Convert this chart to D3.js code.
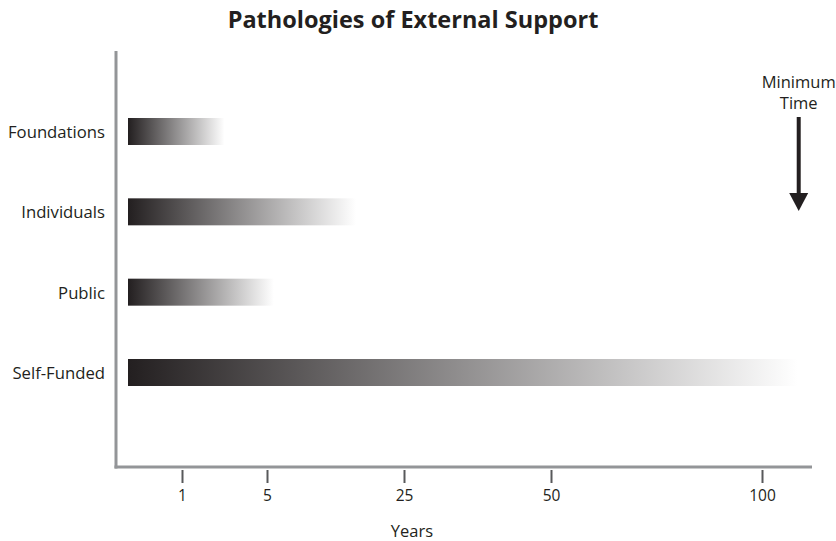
<!DOCTYPE html>
<html>
<head>
<meta charset="utf-8">
<script src="https://cdn.jsdelivr.net/npm/d3@7"></script>
<style>
  html, body { margin: 0; padding: 0; background: #fff; }
  svg { display: block; }
  text { font-family: "Open Sans", "Noto Sans", sans-serif; fill: #231f20; }
</style>
</head>
<body>
<svg id="chart" width="836" height="541"></svg>
<script>
// ---- data ----
const categories = ["Foundations", "Individuals", "Public", "Self-Funded"];
const yearsValues = [3, 18, 6, 110];
const tickValues = [1, 5, 25, 50, 100];
const tickLabels = ["1", "5", "25", "50", "100"];
const scaleBreaks = [0, 1, 5, 25, 50, 100, 114];
const titleText = "Pathologies of External Support";
const xTitle = "Years";
const noteLines = ["Minimum", "Time"];
const noteYear = 110;

// ---- layout ----
const W = 836, H = 541;
const svg = d3.select("#chart");
const axisY = 467, axisLeftX = 116, axisTop = 51;

const x = d3.scaleLinear()
  .domain(scaleBreaks)
  .range([128, 182, 267, 404, 551, 762, 812]);

const y = d3.scalePoint()
  .domain(categories)
  .range([131.5, 372.5]);

const barH = 27;

// gradient
const defs = svg.append("defs");
const grad = defs.append("linearGradient")
  .attr("id", "fade").attr("x1", "0%").attr("x2", "100%").attr("y1", "0%").attr("y2", "0%");
grad.append("stop").attr("offset", "0%").attr("stop-color", "#231f20");
grad.append("stop").attr("offset", "100%").attr("stop-color", "#ffffff");

// title
svg.append("text")
  .attr("x", 413).attr("y", 28)
  .attr("text-anchor", "middle")
  .style("font-size", "23.5px").style("font-weight", "700")
  .text(titleText);

// bars
svg.append("g").selectAll("rect")
  .data(categories.map((c, i) => ({ c, v: yearsValues[i] })))
  .join("rect")
  .attr("x", x(0))
  .attr("y", d => y(d.c) - barH / 2)
  .attr("width", d => x(d.v) - x(0))
  .attr("height", barH)
  .attr("fill", "url(#fade)");

// category labels
const yAxis = svg.append("g")
  .attr("transform", `translate(${axisLeftX - 11},0)`)
  .call(d3.axisLeft(y).tickSize(0).tickPadding(0));
yAxis.select(".domain").remove();
yAxis.selectAll("text")
  .attr("dy", "0.36em")
  .style("font-size", "16.7px")
  .style("font-family", "'Open Sans', 'Noto Sans', sans-serif")
  .attr("fill", "#231f20");

// axes lines
svg.append("line")
  .attr("x1", axisLeftX).attr("x2", axisLeftX)
  .attr("y1", axisTop).attr("y2", axisY + 1.5)
  .attr("stroke", "#939598").attr("stroke-width", 3);
svg.append("line")
  .attr("x1", axisLeftX - 1.5).attr("x2", x(scaleBreaks[scaleBreaks.length - 1]))
  .attr("y1", axisY).attr("y2", axisY)
  .attr("stroke", "#939598").attr("stroke-width", 3);

// x axis ticks
const xAxis = svg.append("g")
  .attr("transform", `translate(0,${axisY + 3})`)
  .call(d3.axisBottom(x).tickValues(tickValues)
    .tickFormat((d, i) => tickLabels[i]).tickSize(13).tickPadding(7));
xAxis.select(".domain").remove();
xAxis.selectAll(".tick line").attr("stroke", "#58595b").attr("stroke-width", 2);
xAxis.selectAll(".tick text")
  .style("font-size", "15.5px")
  .style("font-family", "'Open Sans', 'Noto Sans', sans-serif")
  .attr("fill", "#231f20");

// x title
svg.append("text")
  .attr("x", 412).attr("y", 537)
  .attr("text-anchor", "middle")
  .style("font-size", "16.5px")
  .text(xTitle);

// minimum time annotation
const nx = x(noteYear) + 1;
svg.append("text")
  .attr("x", nx).attr("y", 88)
  .attr("text-anchor", "middle")
  .style("font-size", "16.5px")
  .selectAll("tspan").data(noteLines).join("tspan")
  .attr("x", nx).attr("dy", (d, i) => i === 0 ? 0 : 21)
  .text(d => d);
svg.append("line")
  .attr("x1", nx).attr("x2", nx)
  .attr("y1", 117).attr("y2", 196)
  .attr("stroke", "#231f20").attr("stroke-width", 4);
svg.append("path")
  .attr("d", `M${nx - 9.5},193 L${nx + 9.5},193 L${nx},211 Z`)
  .attr("fill", "#231f20");
</script>
</body>
</html>
